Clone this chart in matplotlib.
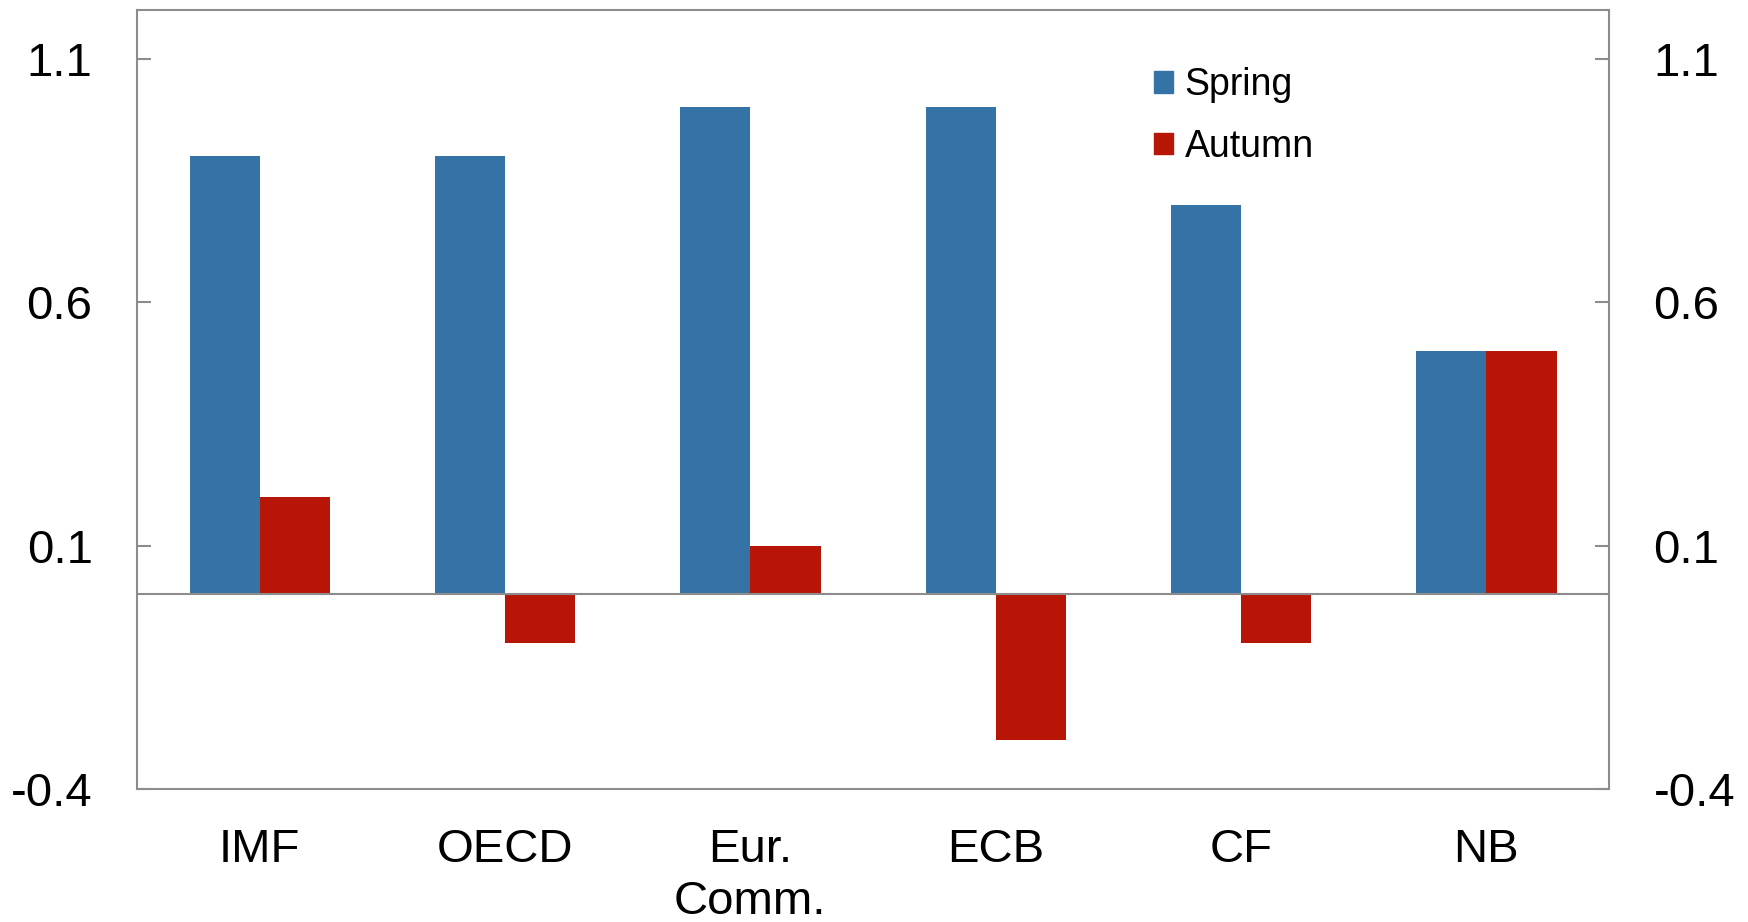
import matplotlib.pyplot as plt
import numpy as np
from matplotlib.patches import Patch

categories = ["IMF", "OECD", "Eur.\nComm.", "ECB", "CF", "NB"]
spring = [0.9, 0.9, 1.0, 1.0, 0.8, 0.5]
autumn = [0.2, -0.1, 0.1, -0.3, -0.1, 0.5]
yticks = [-0.4, 0.1, 0.6, 1.1]

BLUE = "#3572a5"
RED = "#b71506"
GREY = "#8c8c8c"


def main():
    plt.rcParams["font.family"] = ["Liberation Sans", "DejaVu Sans"]
    fig = plt.figure(figsize=(17.48, 9.22), dpi=100)
    ax = fig.add_axes([0.0784, 0.1443, 0.8421, 0.8447])

    x = np.arange(len(categories))
    w = 0.286
    ax.bar(x - w / 2, spring, width=w, color=BLUE, zorder=2)
    ax.bar(x + w / 2, autumn, width=w, color=RED, zorder=2)
    ax.axhline(0, color=GREY, lw=1.5, zorder=3)

    ax.set_xlim(-0.5, len(categories) - 0.5)
    ax.set_ylim(-0.4, 1.2)
    ax.set_yticks(yticks)
    ax.set_yticklabels([f"{v:.1f}" for v in yticks])
    ax.set_xticks(x)
    ax.set_xticklabels(categories, linespacing=1.23)

    ax.tick_params(axis="y", direction="in", length=10, width=1.5, color=GREY,
                   labelsize=34, pad=32, left=True, right=True, labelright=True)
    ax.tick_params(axis="x", length=0, labelsize=34, pad=28)
    for s in ax.spines.values():
        s.set_color(GREY)
        s.set_linewidth(1.5)

    handles = [Patch(color=BLUE, label="Spring"), Patch(color=RED, label="Autumn")]
    ax.legend(handles=handles, loc="upper left", bbox_to_anchor=(0.681, 0.946),
              frameon=False, fontsize=27, handlelength=0.5, handleheight=0.5,
              handletextpad=0.3, labelspacing=0.69, borderaxespad=0)

    fig.savefig("out.png", dpi=100)


if __name__ == "__main__":
    main()
